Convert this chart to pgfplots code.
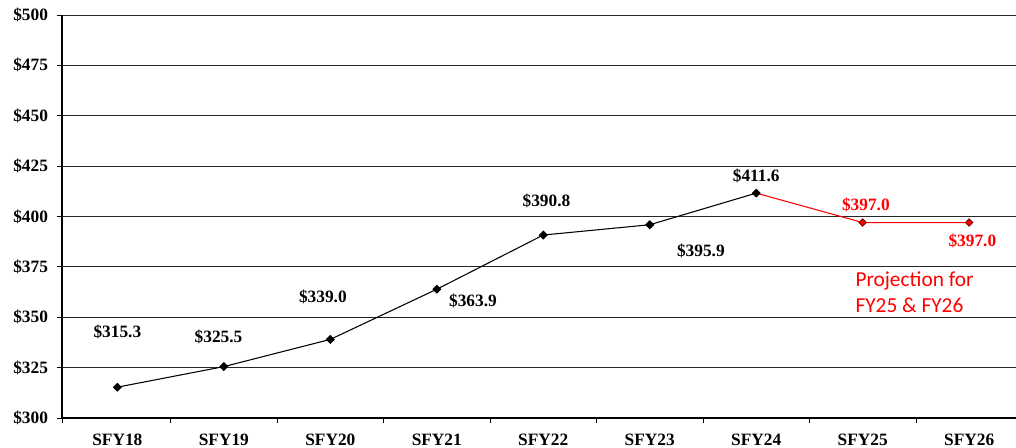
\documentclass[border=0pt]{standalone}
\usepackage{pgfplots}
\pgfplotsset{compat=1.18}
\usepackage{fontspec}
\setmainfont{Liberation Serif}
\newfontfamily\projfont{Carlito}

\begin{document}
\begin{tikzpicture}
  % page size matching the reference margins around the axis box
  \useasboundingbox (-46.5pt,-22.5pt) rectangle (715.5pt,313.5pt);
  \begin{axis}[
    anchor=south west, at={(0,0)},
    scale only axis,
    width=715.5pt, height=302.25pt,
    xmin=-0.52, xmax=8.44,
    ymin=300, ymax=500,
    axis x line*=bottom, axis y line*=left,
    axis line style={black, line width=0.8pt},
    xtick={0,...,8},
    xticklabels={SFY18,SFY19,SFY20,SFY21,SFY22,SFY23,SFY24,SFY25,SFY26},
    minor xtick={-0.52,0.5,1.5,...,7.5},
    ytick={300,325,...,500},
    yticklabels={\$300,\$325,\$350,\$375,\$400,\$425,\$450,\$475,\$500},
    ymajorgrids,
    grid style={black!85, line width=0.6pt},
    tick align=outside,
    x tick style={draw=none},
    minor x tick style={draw=black, line width=0.6pt},
    minor tick length=4pt,
    y tick style={black, line width=0.6pt},
    major tick length=4pt,
    ticklabel style={font=\fontsize{13}{15}\selectfont\bfseries},
    xticklabel style={inner sep=1pt, yshift=-7pt},
    yticklabel style={xshift=-3pt},
    clip=false,
  ]
    \addplot[black, line width=0.8pt, mark=square*, mark size=2pt,
      mark options={fill=black, rotate=45}]
      coordinates {(0,315.3) (1,325.5) (2,339.0) (3,363.9) (4,390.8) (5,395.9) (6,411.6)};
    \addplot[red, line width=0.8pt, mark=none]
      coordinates {(6,411.6) (7,397.0) (8,397.0)};
    \addplot[only marks, mark=square*, mark size=2pt,
      mark options={fill=red, draw=black!70!red, line width=0.5pt, rotate=45}]
      coordinates {(7,397.0) (8,397.0)};
    \begin{scope}[every node/.style={font=\fontsize{13}{15}\selectfont\bfseries}]
      \node at (axis cs:0,342.7) {\$315.3};
      \node at (axis cs:0.95,340.2) {\$325.5};
      \node at (axis cs:1.93,360.0) {\$339.0};
      \node at (axis cs:3.34,358.1) {\$363.9};
      \node at (axis cs:4.03,407.7) {\$390.8};
      \node at (axis cs:5.48,382.9) {\$395.9};
      \node at (axis cs:6,420.1) {\$411.6};
      \node[text=red] at (axis cs:7.03,405.7) {\$397.0};
      \node[text=red] at (axis cs:8.03,387.8) {\$397.0};
    \end{scope}
    \node[text=red, font=\projfont\fontsize{16}{19.5}\selectfont, align=left,
      anchor=west, inner sep=0pt]
      at (axis cs:6.93,362.5) {Projection for\\FY25 \& FY26};
  \end{axis}
\end{tikzpicture}
\end{document}
